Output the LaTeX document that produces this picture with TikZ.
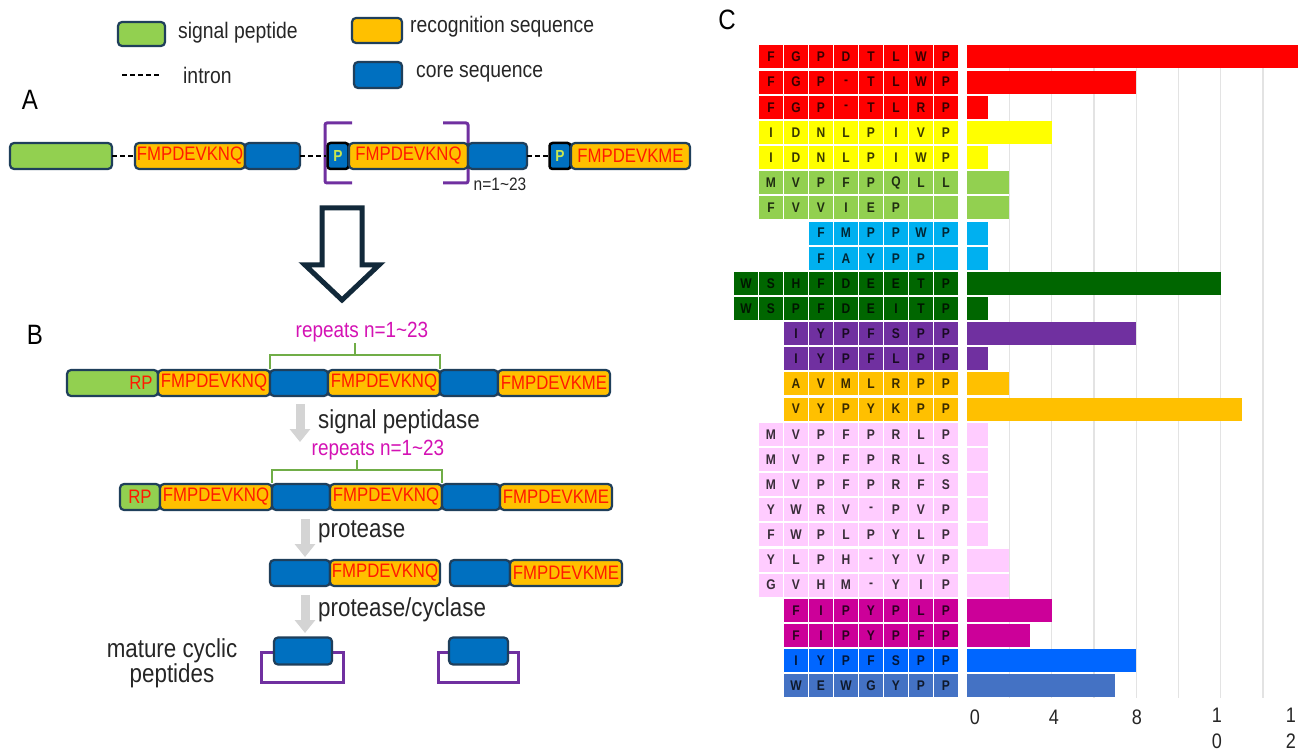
\documentclass[tikz,border=0pt]{standalone}
\usepackage{fontspec}
\setmainfont[FakeStretch=0.86]{Liberation Sans}
\setsansfont[FakeStretch=0.86]{Liberation Sans}
\usetikzlibrary{arrows.meta}
\definecolor{sigG}{HTML}{92D050}
\definecolor{recO}{HTML}{FFC000}
\definecolor{coreB}{HTML}{0070C0}
\definecolor{bordC}{HTML}{1F3F5B}
\definecolor{txtR}{HTML}{FF1A00}
\definecolor{magT}{HTML}{D412B4}
\definecolor{braceG}{HTML}{70AD47}
\definecolor{purp}{HTML}{7030A0}
\definecolor{arrG}{HTML}{D4D4D4}
\definecolor{navyA}{HTML}{12293A}
\definecolor{pG}{HTML}{C8E650}
\definecolor{gridC}{HTML}{E3E3E3}
\definecolor{txtD}{HTML}{262626}
\definecolor{cRed}{HTML}{FF0000}
\definecolor{cYel}{HTML}{FFFF00}
\definecolor{cGrn}{HTML}{92D050}
\definecolor{cCya}{HTML}{00B0F0}
\definecolor{cDkg}{HTML}{006600}
\definecolor{cPur}{HTML}{7030A0}
\definecolor{cOra}{HTML}{FFC000}
\definecolor{cPnk}{HTML}{FFCCFF}
\definecolor{cMag}{HTML}{CC0099}
\definecolor{cBlu}{HTML}{0066FF}
\definecolor{cStl}{HTML}{4472C4}
\newcommand\myfs[1]{\fontsize{#1}{#1}\selectfont}
\tikzset{
 seg/.style={draw=bordC, line width=2.2pt, rounded corners=4pt, minimum height=26pt, inner sep=0pt, outer sep=0pt},
 sigbox/.style={seg, fill=sigG},
 recbox/.style={seg, fill=recO, text=txtR, font=\myfs{19.5}},
 corebox/.style={seg, fill=coreB},
 pbox/.style={draw=black, line width=2.5pt, rounded corners=3pt, fill=coreB, minimum height=26pt, minimum width=21pt, inner sep=0pt, text=pG, font=\bfseries\myfs{16}},
 intronline/.style={dash pattern=on 5pt off 3pt, line width=1.4pt, black},
 lbl/.style={font=\myfs{22.5}, text=txtD, inner sep=0pt, anchor=west},
 steplbl/.style={font=\myfs{26}, text=txtD, inner sep=0pt, anchor=west},
 rep/.style={font=\myfs{22}, text=magT, inner sep=0pt},
 brace/.style={draw=braceG, line width=2pt},
 bracket/.style={draw=purp, line width=3pt},
 grayarrow/.style={draw=arrG, line width=9pt, -{Triangle[width=20pt,length=13pt]}},
 panel/.style={font=\myfs{28}, text=black, inner sep=0pt},
 cell/.style={minimum width=23.5pt, minimum height=23pt, inner sep=0pt, font=\bfseries\myfs{14}, text=black, text opacity=0.78},
 tick/.style={font=\fontsize{21}{26}\selectfont, text=txtD, inner sep=0pt, align=center},
}
\begin{document}
\begin{tikzpicture}[x=1pt,y=-1pt]
\clip (0,0) rectangle (1298,751);
\fill[white] (0,0) rectangle (1298,751);

% ---------- legend ----------
\node[sigbox, minimum width=47pt, minimum height=24pt] (lgS) at (141.5,34) {};
\node[lbl] (lgSt) at (178,33) {signal peptide};
\coordinate (inA) at (122,75);
\coordinate (inB) at (161,75);
\draw[intronline] (inA) -- (inB);
\node[lbl] (lgIt) at (183,75) {intron};
\node[recbox, minimum width=50pt, minimum height=25pt] (lgR) at (377,30.5) {};
\node[lbl] (lgRt) at (410,27) {recognition sequence};
\node[corebox, minimum width=48pt, minimum height=26pt] (lgC) at (378,75) {};
\node[lbl] (lgCt) at (416,74) {core sequence};

% ---------- panel A ----------
\node[panel] (pA) at (30,100) {A};
\draw[bracket, rounded corners=2pt] (352,123) -- (325,123) -- (325,183) -- (352,183);
\draw[bracket, rounded corners=2pt] (443,123) -- (468,123) -- (468,183) -- (443,183);
\node[sigbox, minimum width=102pt] (a1) at (61,156) {};
\node[recbox, minimum width=110pt] (a2) at (190,156) {FMPDEVKNQ};
\node[corebox, minimum width=55pt] (a3) at (272.5,156) {};
\node[pbox] (a4) at (338,156) {P};
\node[recbox, minimum width=119pt] (a5) at (408.5,156) {FMPDEVKNQ};
\node[corebox, minimum width=59pt] (a6) at (497.5,156) {};
\node[pbox] (a7) at (560,156) {P};
\node[recbox, minimum width=119pt] (a8) at (630.5,156) {FMPDEVKME};
\draw[intronline] (a1) -- (a2);
\draw[intronline] (a3) -- (a4);
\draw[intronline] (a6) -- (a7);
\node[font=\myfs{18}, text=txtD, inner sep=0pt] (nA) at (500,184) {n=1\textasciitilde23};

% ---------- hollow arrow ----------
\draw[draw=navyA, line width=5pt, fill=white, line join=miter]
  (322,208) -- (362,208) -- (362,265) -- (379,265) -- (342,300) -- (305,265) -- (322,265) -- cycle;

% ---------- panel B ----------
\node[panel] (pB) at (35,335) {B};
\node[rep] (rep1) at (362,332) {repeats n=1\textasciitilde23};
\draw[brace] (270,369) -- (270,355) -- (440,355) -- (440,369);
\draw[brace] (355,355) -- (355,343);
\node[sigbox, minimum width=91pt] (b1) at (112.5,383) {};
\node[font=\myfs{19.5}, text=txtR, inner sep=0pt] (b1t) at (141,383) {RP};
\node[recbox, minimum width=112pt] (b2) at (214,383) {FMPDEVKNQ};
\node[corebox, minimum width=58pt] (b3) at (299,383) {};
\node[recbox, minimum width=112pt] (b4) at (384,383) {FMPDEVKNQ};
\node[corebox, minimum width=58pt] (b5) at (469,383) {};
\node[recbox, minimum width=112pt] (b6) at (554,383) {FMPDEVKME};

\coordinate (g1s) at (300,404);
\coordinate (g1e) at (300,442);
\draw[grayarrow] (g1s) -- (g1e);
\node[steplbl] (s1) at (318,422) {signal peptidase};

\node[rep] (rep2) at (378,450) {repeats n=1\textasciitilde23};
\draw[brace] (272,483) -- (272,470) -- (442,470) -- (442,483);
\draw[brace] (357,470) -- (357,460);
\node[sigbox, minimum width=40pt, text=txtR, font=\myfs{19.5}] (c1) at (140,497) {RP};
\node[recbox, minimum width=112pt] (c2) at (216,497) {FMPDEVKNQ};
\node[corebox, minimum width=58pt] (c3) at (301,497) {};
\node[recbox, minimum width=112pt] (c4) at (386,497) {FMPDEVKNQ};
\node[corebox, minimum width=58pt] (c5) at (471,497) {};
\node[recbox, minimum width=112pt] (c6) at (556,497) {FMPDEVKME};

\coordinate (g2s) at (305,519);
\coordinate (g2e) at (305,557);
\draw[grayarrow] (g2s) -- (g2e);
\node[steplbl] (s2) at (318,532) {protease};

\node[corebox, minimum width=60pt] (d1) at (300,573) {};
\node[recbox, minimum width=110pt] (d2) at (385,573) {FMPDEVKNQ};
\node[corebox, minimum width=60pt] (d3) at (480,573) {};
\node[recbox, minimum width=112pt] (d4) at (566,573) {FMPDEVKME};

\coordinate (g3s) at (305,595);
\coordinate (g3e) at (305,633);
\draw[grayarrow] (g3s) -- (g3e);
\node[steplbl] (s3) at (318,610) {protease/cyclase};

\node[font=\fontsize{26}{25}\selectfont, text=txtD, align=center, inner sep=0pt] (mat) at (172,663) {mature cyclic\\peptides};
\draw[bracket] (274,652) -- (261,652) -- (261,682) -- (343,682) -- (343,652) -- (332,652);
\node[corebox, minimum width=58pt, minimum height=27pt] (e1) at (303,651) {};
\draw[bracket] (449,652) -- (438,652) -- (438,682) -- (518,682) -- (518,652) -- (508,652);
\node[corebox, minimum width=59pt, minimum height=27pt] (e2) at (478.5,651) {};

% ---------- panel C ----------
\node[panel] (pC) at (727,20) {C};
\foreach \g in {2,4,...,14}{
  \draw[gridC, line width=1.3pt] ({967+21.15*\g},45) -- ({967+21.15*\g},698);
}
\foreach \r/\cl/\sc/\v/\lts in {
1/cRed/1/16/{F,G,P,D,T,L,W,P},
2/cRed/1/8/{F,G,P,-,T,L,W,P},
3/cRed/1/1/{F,G,P,-,T,L,R,P},
4/cYel/1/4/{I,D,N,L,P,I,V,P},
5/cYel/1/1/{I,D,N,L,P,I,W,P},
6/cGrn/1/2/{M,V,P,F,P,Q,L,L},
7/cGrn/1/2/{F,V,V,I,E,P,{},{}},
8/cCya/3/1/{F,M,P,P,W,P},
9/cCya/3/1/{F,A,Y,P,P,{}},
10/cDkg/0/12/{W,S,H,F,D,E,E,T,P},
11/cDkg/0/1/{W,S,P,F,D,E,I,T,P},
12/cPur/2/8/{I,Y,P,F,S,P,P},
13/cPur/2/1/{I,Y,P,F,L,P,P},
14/cOra/2/2/{A,V,M,L,R,P,P},
15/cOra/2/13/{V,Y,P,Y,K,P,P},
16/cPnk/1/1/{M,V,P,F,P,R,L,P},
17/cPnk/1/1/{M,V,P,F,P,R,L,S},
18/cPnk/1/1/{M,V,P,F,P,R,F,S},
19/cPnk/1/1/{Y,W,R,V,-,P,V,P},
20/cPnk/1/1/{F,W,P,L,P,Y,L,P},
21/cPnk/1/2/{Y,L,P,H,-,Y,V,P},
22/cPnk/1/2/{G,V,H,M,-,Y,I,P},
23/cMag/2/4/{F,I,P,Y,P,L,P},
24/cMag/2/3/{F,I,P,Y,P,F,P},
25/cBlu/2/8/{I,Y,P,F,S,P,P},
26/cStl/2/7/{W,E,W,G,Y,P,P}}
{
  \pgfmathsetmacro\yc{57+25.15*(\r-1)}
  \foreach \L [count=\k from 0] in \lts {
    \pgfmathsetmacro\xc{746+25*(\sc+\k)}
    \node[cell, fill=\cl] (cell-\r-\k) at (\xc,\yc) {\L};
  }
  \fill[\cl] (967,{\yc-11.5}) rectangle ({967+21.15*\v},{\yc+11.5});
}
\node[tick] (t0) at (975,717) {0};
\node[tick] (t4) at (1054,717) {4};
\node[tick] (t8) at (1137,717) {8};
\node[tick] (t10) at (1217,728) {1\\0};
\node[tick] (t12) at (1291,728) {1\\2};
\end{tikzpicture}
\end{document}
